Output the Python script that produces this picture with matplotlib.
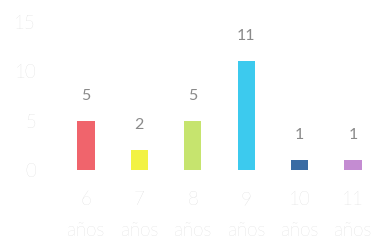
import matplotlib.pyplot as plt
import numpy as np

edades = ["6\naños", "7\naños", "8\naños", "9\naños", "10\naños", "11\naños"]
alumnos = [5, 2, 5, 11, 1, 1]
colores = ["#F0646C", "#F2F244", "#C6E46E", "#3CCAEE", "#3A6CA4", "#C48CD2"]

fig = plt.figure(figsize=(3.77, 2.44), dpi=100)
ax = fig.add_axes([0.0, 0.303, 1.0, 0.607])

x = np.arange(len(edades))
bars = ax.bar(x, alumnos, width=0.32, color=colores)

for b, v in zip(bars, alumnos):
    ax.annotate(str(v), (b.get_x() + b.get_width() / 2, v), xytext=(0, 18),
                textcoords="offset points", ha="center", va="center",
                fontsize=11.5, color="#8a8a8a", family="Lato")

ax.set_xlim(-1.61, 5.45)
ax.set_ylim(0, 15)
ax.set_xticks(x)
ax.set_xticklabels(edades, linespacing=1.95)
ax.set_yticks([0, 5, 10, 15])
for s in ax.spines.values():
    s.set_visible(False)
ax.tick_params(length=0, colors="#cccccc", labelsize=13.5)
ax.tick_params(axis="x", pad=15)
ax.tick_params(axis="y", pad=-26)
for t in ax.get_xticklabels() + ax.get_yticklabels():
    t.set_family("Lato")
    t.set_fontweight("light")
ax.set_facecolor("white")

fig.savefig("out.png", dpi=100)
